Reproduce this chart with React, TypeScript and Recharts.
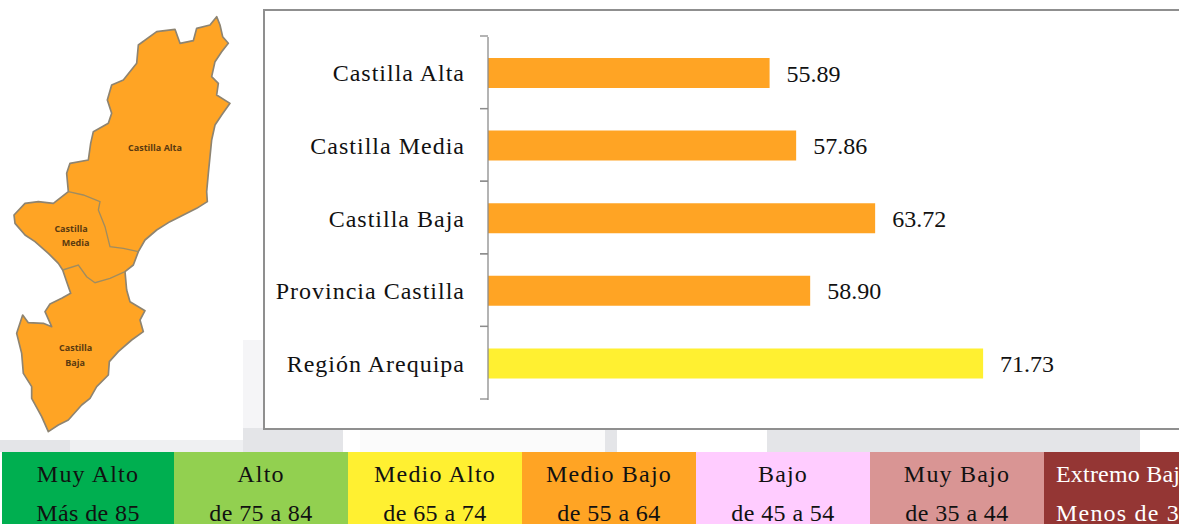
import React from 'react';
import { BarChart, Bar, XAxis, YAxis, Cell, LabelList } from 'recharts';

const categories = ['Castilla Alta', 'Castilla Media', 'Castilla Baja', 'Provincia Castilla', 'Región Arequipa'];
const values = [55.89, 57.86, 63.72, 58.9, 71.73];
const barColors = ['#FFA424', '#FFA424', '#FFA424', '#FFA424', '#FFF031'];

const scaleNames = ['Muy Alto', 'Alto', 'Medio Alto', 'Medio Bajo', 'Bajo', 'Muy Bajo', 'Extremo Bajo'];
const scaleRanges = ['Más de 85', 'de 75 a 84', 'de 65 a 74', 'de 55 a 64', 'de 45 a 54', 'de 35 a 44', 'Menos de 35'];
const scaleColors = ['#00AF50', '#92D050', '#FFF031', '#FFA424', '#FFCCFF', '#D99594', '#943634'];
const scaleLefts = [2, 174, 348, 522, 696, 870, 1044];

const data = categories.map((name, i) => ({ name, value: values[i] }));

const font = '"Liberation Serif", "Times New Roman", serif';
const bandHeight = 72.6;

// outline of the province map, traced at 3x from the picture
const mapOutline =
  'M650 50 L660 75 L668 110 L685 130 L665 155 L645 185 L635 230 L655 250 L650 285 L690 310 L665 345 L645 375 L635 420 L630 470 L625 520 L620 575 L622 605 L590 625 L550 645 L510 665 L470 690 L435 720 L415 755 L400 795 L375 815 L380 870 L390 905 L435 932 L420 960 L430 995 L395 1020 L355 1055 L328 1085 L325 1125 L290 1160 L270 1195 L245 1215 L205 1260 L175 1275 L145 1295 L125 1250 L95 1195 L95 1160 L70 1120 L65 1060 L50 1000 L68 945 L85 968 L130 970 L155 980 L135 935 L150 912 L185 895 L212 880 L200 845 L188 810 L175 790 L145 760 L105 725 L75 705 L45 670 L42 645 L75 610 L115 605 L160 610 L205 575 L200 520 L210 490 L265 480 L272 430 L280 395 L325 370 L335 340 L322 300 L335 255 L370 240 L410 190 L415 135 L470 95 L525 88 L540 130 L580 122 L590 85 L630 75 Z';
const mapInnerOne = 'M205 575 L250 585 L300 605 L295 630 L315 680 L330 740 L370 745 L415 755';
const mapInnerTwo = 'M188 810 L235 795 L260 830 L285 848 L330 835 L375 815';

// faint watermark behind the page
const backdropStrips = [
  { left: 243, top: 340, width: 20, height: 90, color: '#F5F5F7' },
  { left: 70, top: 440, width: 173, height: 12, color: '#EFF0F2' },
  { left: 360, top: 430, width: 245, height: 22, color: '#FBFBFB' },
  { left: 0, top: 440, width: 70, height: 12, color: '#E4E5E8' },
  { left: 243, top: 428, width: 100, height: 24, color: '#E4E5E8' },
  { left: 605, top: 430, width: 12, height: 22, color: '#E4E5E8' },
  { left: 767, top: 430, width: 373, height: 22, color: '#E4E5E8' },
];

const ProvinceMap = () => (
  <svg width={270} height={445} viewBox="0 0 810 1335" style={{ position: 'absolute', left: 0, top: 0 }}>
    <rect x={24} y={36} width={705} height={1284} fill="#ffffff" />
    <path d={mapOutline} fill="#FFA424" stroke="#8E8471" strokeWidth={5} strokeLinejoin="round" />
    <path d={mapInnerOne} fill="none" stroke="#A08C60" strokeWidth={4} />
    <path d={mapInnerTwo} fill="none" stroke="#A08C60" strokeWidth={4} />
    <g fontFamily="Open Sans, sans-serif" fontSize={27} fontWeight={700} fill="#5A3A10" textAnchor="middle">
      <text x={465} y={453}>Castilla Alta</text>
      <text x={213} y={696}>Castilla</text>
      <text x={227} y={739}>Media</text>
      <text x={227} y={1054}>Castilla</text>
      <text x={225} y={1099}>Baja</text>
    </g>
  </svg>
);

// category label plus the stub ticks that sit between the bars
const CategoryTick = (props: any) => {
  const { y, payload } = props;
  const axisX = 488;
  const top = y - 1 - bandHeight / 2;
  const bottom = y - 1 + bandHeight / 2;
  return (
    <g>
      <line x1={axisX - 8} x2={axisX} y1={top} y2={top} stroke="#8C8C8C" strokeWidth={1.3} />
      <line x1={axisX - 8} x2={axisX} y1={bottom} y2={bottom} stroke="#8C8C8C" strokeWidth={1.3} />
      <text x={axisX - 23} y={y + 8} textAnchor="end" fill="#111111" fontSize={24} fontFamily={font} letterSpacing={1}>
        {payload.value}
      </text>
    </g>
  );
};

const App = () => {
  return (
    <div style={{ position: 'absolute', left: 0, top: 0, width: 1179, height: 524, overflow: 'hidden', background: '#ffffff', fontFamily: font }}>
      {backdropStrips.map((s) => (
        <div key={s.left + '-' + s.top} style={{ position: 'absolute', left: s.left, top: s.top, width: s.width, height: s.height, background: s.color }} />
      ))}
      <ProvinceMap />
      <div style={{ position: 'absolute', left: 263, top: 9, width: 930, height: 417, border: '2px solid #8F8F8F', background: '#ffffff' }} />
      <div style={{ position: 'absolute', left: 0, top: 0 }}>
        <BarChart
          width={1179}
          height={440}
          data={data}
          layout="vertical"
          barSize={30}
          margin={{ top: 37, right: 17, bottom: 40, left: 0 }}
        >
          <XAxis type="number" domain={[35, 85]} hide />
          <YAxis
            type="category"
            dataKey="name"
            width={488}
            axisLine={{ stroke: '#8C8C8C', strokeWidth: 1.3 }}
            tickLine={false}
            interval={0}
            tick={<CategoryTick />}
          />
          <Bar dataKey="value" isAnimationActive={false}>
            {data.map((d, i) => (
              <Cell key={d.name} fill={barColors[i]} />
            ))}
            <LabelList dataKey="value" position="right" offset={17} formatter={(v: any) => Number(v).toFixed(2)} style={{ fill: '#111111', fontSize: 24, fontFamily: font }} />
          </Bar>
        </BarChart>
      </div>
      {scaleNames.map((name, i) => (
        <div
          key={name}
          style={{
            position: 'absolute',
            left: scaleLefts[i],
            top: 452,
            width: (scaleLefts[i + 1] ?? 1218) - scaleLefts[i],
            height: 72,
            boxSizing: 'border-box',
            paddingLeft: i === 6 ? 12 : 0,
            background: scaleColors[i],
            color: i === 6 ? '#ffffff' : '#111111',
            fontSize: 24,
            textAlign: i === 6 ? 'left' : 'center',
            lineHeight: '39px',
            whiteSpace: 'nowrap',
          }}
        >
          <div style={{ marginTop: 3, letterSpacing: i === 6 ? 0.2 : 1.2 }}>{name}</div>
          <div style={{ letterSpacing: i === 6 ? 1.2 : 0.4 }}>{scaleRanges[i]}</div>
        </div>
      ))}
    </div>
  );
};

export default App;
